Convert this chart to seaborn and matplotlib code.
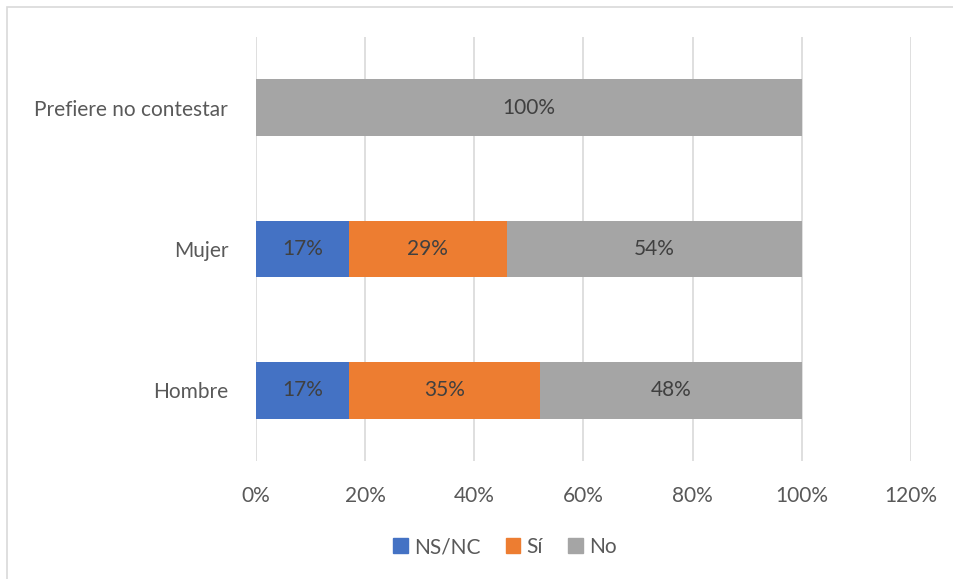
import matplotlib
matplotlib.use("Agg")
import matplotlib.pyplot as plt
import matplotlib.patches as mpatches
import seaborn as sns
import pandas as pd
import numpy as np

categories = ["Prefiere no contestar", "Mujer", "Hombre"]
series = ["NS/NC", "Sí", "No"]
ns_nc = [0, 17, 17]
si = [0, 29, 35]
no = [100, 54, 48]
colors = ["#4472C4", "#ED7D31", "#A5A5A5"]
xticks = [0, 20, 40, 60, 80, 100, 120]

sns.set_theme(style="white")
plt.rcParams["font.family"] = ["Lato", "DejaVu Sans"]

df = pd.DataFrame({"categoria": categories, "NS/NC": ns_nc, "Sí": si, "No": no})

fig = plt.figure(figsize=(9.54, 5.79), dpi=100)
ax = fig.add_axes([256 / 954, 1 - 461 / 579, (911 - 256) / 954, (461 - 37) / 579])

# figure frame
fig.patches.append(mpatches.Rectangle((7 / 954, -0.1), 1.2, 1 - 7 / 579 + 0.1,
                                      transform=fig.transFigure, fill=False,
                                      edgecolor="#D9D9D9", linewidth=1.2, zorder=0))

# stacked bars: each series is drawn with seaborn, then shifted to its running offset
left = np.zeros(len(categories))
for s, c in zip(series, colors):
    vals = df[s].to_numpy(dtype=float)
    sns.barplot(data=df, x=s, y="categoria", color=c, orient="h",
                width=0.4, ax=ax, zorder=3, saturation=1, linewidth=0,
                legend=False)
    bars = ax.patches[-len(categories):]
    for bar, l, v in zip(bars, left, vals):
        bar.set_x(l)
        if v > 0:
            ax.text(l + v / 2, bar.get_y() + bar.get_height() / 2, f"{v:.0f}%",
                    ha="center", va="center", fontsize=15, color="#404040", zorder=4)
    left = left + vals

ax.set_xlim(0, 120)
ax.set_ylim(2.5, -0.5)
ax.set_xticks(xticks)
ax.set_xticklabels([f"{t}%" for t in xticks], fontsize=15, color="#595959")
ax.tick_params(axis="y", labelsize=15, labelcolor="#595959", length=0, pad=20)
ax.tick_params(axis="x", length=0, pad=18)
ax.set_xlabel("")
ax.set_ylabel("")
ax.grid(axis="x", color="#D9D9D9", linewidth=1.2, zorder=0)
ax.grid(axis="y", visible=False)
for sp in ax.spines.values():
    sp.set_visible(False)

handles = [mpatches.Patch(color=c, label=s) for s, c in zip(series, colors)]
leg = fig.legend(handles=handles, loc="center", bbox_to_anchor=(505 / 954, 1 - 547 / 579),
                 ncol=3, frameon=False, fontsize=15, handlelength=0.7, handleheight=0.7,
                 handletextpad=0.3, columnspacing=1.2)
for t in leg.get_texts():
    t.set_color("#595959")

fig.savefig("out.png", dpi=100)
